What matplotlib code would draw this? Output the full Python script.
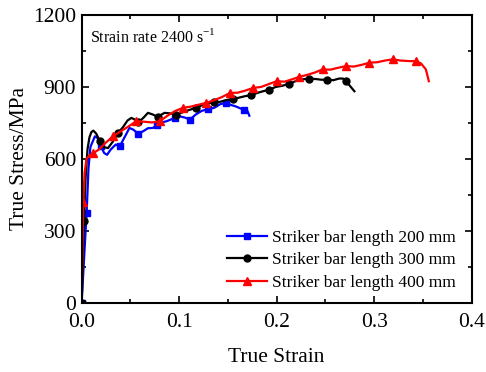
import matplotlib
matplotlib.use("Agg")
import matplotlib.pyplot as plt
from matplotlib.ticker import MultipleLocator, FormatStrFormatter

plt.rcParams['font.family'] = ['Liberation Serif', 'DejaVu Serif']
plt.rcParams['mathtext.fontset'] = 'custom'
plt.rcParams['mathtext.rm'] = 'Liberation Serif'

# ---- data ----
blue_strain = [0.000, 0.002, 0.0051, 0.007, 0.009, 0.0136, 0.017, 0.020, 0.023, 0.026,
               0.030, 0.035, 0.039, 0.044, 0.049, 0.053, 0.058, 0.063, 0.068, 0.073,
               0.077, 0.082, 0.087, 0.092, 0.0955, 0.100, 0.106, 0.111, 0.117, 0.123,
               0.130, 0.136, 0.142, 0.148, 0.153, 0.158, 0.162, 0.166, 0.170, 0.172]
blue_stress = [0, 150, 374, 560, 650, 694, 685, 652, 625, 617,
               640, 660, 652, 690, 729, 722, 705, 715, 728, 729,
               740, 752, 757, 765, 771, 778, 772, 764, 785, 800,
               808, 813, 828, 834, 825, 819, 812, 805, 800, 780]
blue_marks = [0, 2, 7, 12, 16, 20, 24, 27, 30, 33, 37]

black_strain = [0.000, 0.001, 0.0024, 0.004, 0.006, 0.008, 0.010, 0.012, 0.015, 0.0187,
                0.022, 0.027, 0.032, 0.037, 0.042, 0.047, 0.051, 0.054, 0.058, 0.063,
                0.068, 0.073, 0.078, 0.082, 0.085, 0.090, 0.097, 0.104, 0.111, 0.1176,
                0.124, 0.130, 0.136, 0.142, 0.148, 0.155, 0.161, 0.168, 0.174, 0.180,
                0.186, 0.1926, 0.199, 0.206, 0.213, 0.220, 0.227, 0.2336, 0.240, 0.246,
                0.252, 0.258, 0.264, 0.268, 0.271, 0.275, 0.2797]
black_stress = [0, 130, 339, 520, 640, 690, 712, 718, 705, 673,
                650, 645, 672, 708, 730, 760, 771, 765, 753, 770,
                792, 785, 775, 785, 792, 790, 785, 795, 805, 813,
                825, 832, 836, 838, 845, 850, 855, 862, 865, 875,
                882, 889, 900, 905, 914, 925, 932, 935, 933, 930,
                931, 928, 935, 935, 924, 905, 882]
black_marks = [0, 2, 9, 13, 18, 22, 26, 29, 32, 35, 38, 41, 44, 47, 50, 54]

red_strain = [0.000, 0.0008, 0.0017, 0.003, 0.005, 0.008, 0.012, 0.018, 0.024, 0.032,
              0.040, 0.048, 0.056, 0.064, 0.072, 0.080, 0.088, 0.096, 0.104, 0.112,
              0.120, 0.128, 0.136, 0.144, 0.152, 0.160, 0.168, 0.176, 0.184, 0.192,
              0.200, 0.208, 0.216, 0.223, 0.231, 0.239, 0.247, 0.255, 0.263, 0.271,
              0.279, 0.287, 0.295, 0.303, 0.311, 0.319, 0.327, 0.335, 0.343, 0.348,
              0.353, 0.356]
red_stress = [0, 200, 422, 540, 600, 615, 624, 640, 665, 694,
              715, 735, 757, 755, 752, 757, 780, 800, 813, 818,
              826, 834, 845, 858, 875, 876, 885, 896, 900, 912,
              924, 922, 932, 942, 950, 960, 973, 972, 980, 987,
              985, 992, 1001, 1003, 1010, 1015, 1010, 1008, 1007, 998,
              973, 924]
red_marks = [2, 6, 9, 12, 15, 18, 21, 24, 27, 30, 33, 36, 39, 42, 45, 48]

labels = ["Striker bar length 200 mm", "Striker bar length 300 mm", "Striker bar length 400 mm"]
x_ticks = [0.0, 0.1, 0.2, 0.3, 0.4]
y_ticks = [0, 300, 600, 900, 1200]

fig = plt.figure(figsize=(4.86, 3.72), dpi=100)
ax = fig.add_axes([0.168, 0.186, 0.8026, 0.7737])

ax.plot(blue_strain, blue_stress, color='#0000ff', lw=1.6, marker='s', ms=4.5,
        markevery=blue_marks, label=labels[0])
ax.plot(black_strain, black_stress, color='black', lw=1.6, marker='o', ms=5,
        markevery=black_marks, label=labels[1])
ax.plot(red_strain, red_stress, color='#ff0000', lw=1.6, marker='^', ms=5.5,
        markevery=red_marks, label=labels[2])

ax.set_xlim(0, 0.4)
ax.set_ylim(0, 1200)
ax.set_xticks(x_ticks)
ax.set_yticks(y_ticks)
ax.xaxis.set_major_formatter(FormatStrFormatter('%.1f'))
ax.xaxis.set_minor_locator(MultipleLocator(0.05))
ax.yaxis.set_minor_locator(MultipleLocator(150))
ax.tick_params(which='both', direction='in', top=True, right=True, width=1.2)
ax.tick_params(which='major', length=5, labelsize=15.5)
ax.tick_params(axis='x', which='major', pad=7)
ax.tick_params(axis='y', which='major', pad=4)
ax.tick_params(which='minor', length=3)
for s in ax.spines.values():
    s.set_linewidth(1.5)

ax.set_xlabel('True Strain', fontsize=15.5, labelpad=12)
ax.set_ylabel('True Stress/MPa', fontsize=15.5, labelpad=3)

ax.text(0.022, 0.905, r'Strain rate 2400 s$^{\mathregular{-1}}$', transform=ax.transAxes,
        fontsize=11.5, va='baseline', ha='left')

ax.legend(loc='lower right', bbox_to_anchor=(0.99, 0.0), frameon=False, fontsize=12.5,
          handlelength=2.3, handletextpad=0.3, labelspacing=0.35, borderaxespad=0.3)

fig.savefig('out.png', dpi=100)
